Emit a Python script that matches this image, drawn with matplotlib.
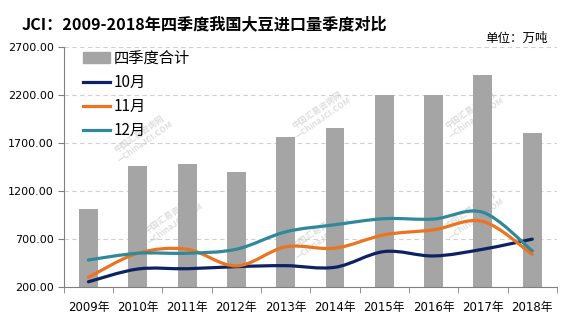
import numpy as np
import matplotlib
matplotlib.use("Agg")
import matplotlib.pyplot as plt
from matplotlib.path import Path
from matplotlib.patches import PathPatch
from matplotlib.lines import Line2D
from matplotlib.patches import Patch

plt.rcParams['font.family'] = ['DejaVu Sans', 'Noto Sans CJK SC']

# 大豆进口量（万吨）
years = ["2009年", "2010年", "2011年", "2012年", "2013年",
         "2014年", "2015年", "2016年", "2017年", "2018年"]
q4_total = [1010, 1460, 1480, 1400, 1760, 1860, 2200, 2200, 2410, 1800]
oct_vals = [255, 388, 391, 413, 423, 406, 570, 524, 594, 699]
nov_vals = [301, 552, 594, 420, 619, 605, 744, 796, 883, 539]
dec_vals = [482, 552, 552, 594, 775, 849, 912, 908, 978, 577]

series = [("10月", oct_vals, "#0E2163"),
          ("11月", nov_vals, "#EC7320"),
          ("12月", dec_vals, "#30899A")]


def smooth_path(xs, ys):
    """Excel-style smoothed line: cubic Bezier through every point."""
    pts = np.column_stack([xs, ys]).astype(float)
    verts = [pts[0]]
    codes = [Path.MOVETO]
    n = len(pts)
    for i in range(n - 1):
        p0 = pts[max(i - 1, 0)]
        p1 = pts[i]
        p2 = pts[i + 1]
        p3 = pts[min(i + 2, n - 1)]
        c1 = p1 + (p2 - p0) / 6.0
        c2 = p2 - (p3 - p1) / 6.0
        verts += [c1, c2, p2]
        codes += [Path.CURVE4] * 3
    return Path(verts, codes)


fig = plt.figure(figsize=(5.85, 3.24), dpi=100)
ax = fig.add_axes([0.109, 0.114, 0.843, 0.741])

x = np.arange(len(years))
ax.bar(x, q4_total, width=0.385, color="#A5A5A5", zorder=2)

for name, vals, col in series:
    patch = PathPatch(smooth_path(x, vals), facecolor="none", edgecolor=col,
                      lw=2.3, capstyle="round", joinstyle="round", zorder=3)
    ax.add_patch(patch)

ax.set_xlim(-0.5, len(years) - 0.5)
ax.set_ylim(200, 2700)
ax.set_yticks(np.arange(200, 2701, 500))
ax.set_yticklabels([f"{v:.2f}" for v in range(200, 2701, 500)], fontsize=8)
ax.yaxis.grid(True, linestyle=(0, (4, 3)), color="#D0D0D0", lw=0.8, zorder=0)

ax.set_xticks(x)
ax.set_xticklabels(years, fontsize=8.5)
ax.set_xticks(np.arange(-0.5, len(years)), minor=True)
ax.tick_params(axis="x", which="major", length=0, pad=10)
ax.tick_params(axis="x", which="minor", length=4, color="#808080", direction="out")
ax.tick_params(axis="y", length=4, color="#808080", direction="out", pad=3)

for side in ["top", "right"]:
    ax.spines[side].set_visible(False)
for side in ["left", "bottom"]:
    ax.spines[side].set_color("#808080")
    ax.spines[side].set_linewidth(0.8)

# 水印
for (wx, wy) in [(0.16, 0.62), (0.52, 0.72), (0.83, 0.72), (0.22, 0.28),
                 (0.52, 0.22), (0.83, 0.30)]:
    ax.text(wx, wy, "中国汇易咨询网\n—ChinaJCI.COM", transform=ax.transAxes,
            rotation=35, fontsize=6, color="#DEDEDE", ha="center", va="center",
            family=["Noto Sans CJK SC", "DejaVu Sans"], fontweight="bold", zorder=1)

handles = [Patch(color="#A5A5A5")] + [Line2D([], [], color=c, lw=2.3) for _, _, c in series]
labels = ["四季度合计"] + [s[0] for s in series]
leg = ax.legend(handles, labels, loc="upper left", bbox_to_anchor=(0.012, 1.045),
                frameon=False, handlelength=1.75, handleheight=0.7,
                labelspacing=0.46, handletextpad=0.25,
                prop={"family": ["Noto Sans CJK SC", "DejaVu Sans"], "size": 11})

fig.text(0.037, 0.925, "JCI：2009-2018年四季度我国大豆进口量季度对比",
         fontsize=11.6, fontweight="bold", family=["Noto Sans CJK SC", "DejaVu Sans"],
         va="center", ha="left")
fig.text(0.83, 0.882, "单位：万吨", fontsize=9,
         family=["Noto Sans CJK SC", "DejaVu Sans"], va="center", ha="left")

fig.savefig("out.png", dpi=100)
